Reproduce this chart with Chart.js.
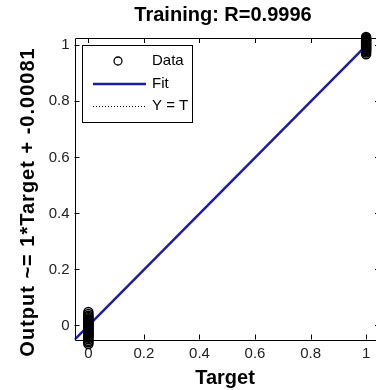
<!DOCTYPE html>
<html>
<head>
<meta charset="utf-8">
<script src="https://cdn.jsdelivr.net/npm/chart.js@4/dist/chart.umd.min.js"></script>
<style>
    html, body { margin: 0; padding: 0; background: #fff; overflow: hidden; }
    #wrap { width: 386px; height: 390px; }
</style>
</head>
<body>
<div id="wrap"><canvas id="graphRegression" width="386" height="390"></canvas></div>
<script>
// Datos del grafico de regresion
const chartTitle = "Training: R=0.9996";
const xAxisTitle = "Target";
const yAxisTitle = "Output ~= 1*Target + -0.00081";
const legendLabels = ["Data", "Fit", "Y = T"];

const xTickValues = [0, 0.2, 0.4, 0.6, 0.8, 1];
const yTickValues = [0, 0.2, 0.4, 0.6, 0.8, 1];
const xTickLabels = ["0", "0.2", "0.4", "0.6", "0.8", "1"];
const yTickLabels = ["0", "0.2", "0.4", "0.6", "0.8", "1"];

// Salidas de la red para target = 0 y target = 1
const outputsTarget0 = [0.048, 0.041, 0.035, 0.03, 0.026, 0.022, 0.019, 0.016, 0.013, 0.01,
    0.007, 0.004, 0.001, -0.002, -0.005, -0.008, -0.011, -0.014, -0.017, -0.02, -0.023, -0.026,
    -0.029, -0.032, -0.035, -0.038, -0.041, -0.044, -0.049, -0.055, -0.06, -0.066];
const outputsTarget1 = [0.968, 0.974, 0.979, 0.983, 0.986, 0.989, 0.992, 0.995, 0.998, 1.001,
    1.004, 1.007, 1.01, 1.013, 1.016, 1.019, 1.022, 1.026, 1.03];

// Recta de ajuste y recta Y = T
const fitX = [-0.05, 1];
const fitY = [-0.0508, 0.9992];
const identityX = [-0.05, 1.05];
const identityY = [-0.05, 1.05];

const fitColor = "#1c1ca6";
const fontFamily = "'Liberation Sans', Arial, sans-serif";

// Plugin para dibujar ejes tipo MATLAB, titulos y leyenda
const matlabAxes = {
    id: "matlabAxes",
    afterDatasetsDraw(chart) {
        const ctx = chart.ctx;
        const area = chart.chartArea;
        const xs = chart.scales.x;
        const ys = chart.scales.y;
        const tick = 5;

        ctx.save();
        ctx.strokeStyle = "#000";
        ctx.lineWidth = 1;
        ctx.beginPath();
        ctx.rect(Math.round(area.left) + 0.5, Math.round(area.top) + 0.5,
            Math.round(area.right - area.left), Math.round(area.bottom - area.top));
        ctx.stroke();

        // Marcas hacia adentro
        ctx.beginPath();
        xTickValues.forEach(v => {
            const px = Math.round(xs.getPixelForValue(v)) + 0.5;
            ctx.moveTo(px, area.bottom);
            ctx.lineTo(px, area.bottom - tick);
            ctx.moveTo(px, area.top);
            ctx.lineTo(px, area.top + tick);
        });
        yTickValues.forEach(v => {
            const py = Math.round(ys.getPixelForValue(v)) + 0.5;
            ctx.moveTo(area.left, py);
            ctx.lineTo(area.left + tick, py);
            ctx.moveTo(area.right, py);
            ctx.lineTo(area.right - tick, py);
        });
        ctx.stroke();

        // Leyenda
        const lg = { left: 82.5, top: 45.5, right: 192.5, bottom: 122.5 };
        ctx.fillStyle = "#fff";
        ctx.fillRect(lg.left, lg.top, lg.right - lg.left, lg.bottom - lg.top);
        ctx.strokeStyle = "#000";
        ctx.strokeRect(lg.left, lg.top, lg.right - lg.left, lg.bottom - lg.top);

        const rows = [61, 84, 106];
        ctx.font = "15px " + fontFamily;
        ctx.fillStyle = "#000";
        ctx.textBaseline = "middle";
        ctx.textAlign = "left";
        legendLabels.forEach((label, i) => ctx.fillText(label, 152, rows[i]));

        ctx.lineWidth = 1.3;
        ctx.beginPath();
        ctx.arc(118, rows[0], 4, 0, Math.PI * 2);
        ctx.stroke();

        ctx.strokeStyle = fitColor;
        ctx.lineWidth = 2.5;
        ctx.beginPath();
        ctx.moveTo(93, rows[1]);
        ctx.lineTo(146, rows[1]);
        ctx.stroke();

        ctx.strokeStyle = "#000";
        ctx.lineWidth = 1;
        ctx.setLineDash([1, 2]);
        ctx.beginPath();
        ctx.moveTo(93, rows[2] + 0.5);
        ctx.lineTo(146, rows[2] + 0.5);
        ctx.stroke();
        ctx.setLineDash([]);
        ctx.restore();
    },
    afterDraw(chart) {
        const ctx = chart.ctx;
        ctx.save();
        ctx.fillStyle = "#000";
        ctx.font = "bold 20px " + fontFamily;
        ctx.textAlign = "center";
        ctx.textBaseline = "alphabetic";
        ctx.fillText(chartTitle, 223, 21);
        ctx.fillText(xAxisTitle, 225, 384);

        ctx.translate(34, 202);
        ctx.rotate(-Math.PI / 2);
        ctx.letterSpacing = "1px";
        ctx.fillText(yAxisTitle, 0, 0);
        ctx.restore();
    }
};

const ctxRegression = document.getElementById("graphRegression").getContext("2d");
const chartRegression = new Chart(ctxRegression, {
    type: "scatter",
    data: {
        datasets: [
            {
                label: legendLabels[0],
                data: outputsTarget0.map(y => ({ x: 0, y: y }))
                    .concat(outputsTarget1.map(y => ({ x: 1, y: y }))),
                pointStyle: "circle",
                pointRadius: 4.5,
                borderWidth: 1.5,
                borderColor: "#000",
                backgroundColor: "rgba(0,0,0,0)",
                clip: false,
                order: 0
            },
            {
                label: legendLabels[1],
                type: "line",
                data: fitX.map((x, i) => ({ x: x, y: fitY[i] })),
                borderColor: fitColor,
                borderWidth: 2.5,
                pointRadius: 0,
                order: 1
            },
            {
                label: legendLabels[2],
                type: "line",
                data: identityX.map((x, i) => ({ x: x, y: identityY[i] })),
                borderColor: "#000",
                borderWidth: 1,
                borderDash: [1, 2],
                pointRadius: 0,
                order: 2
            }
        ]
    },
    options: {
        responsive: false,
        animation: false,
        layout: { padding: { top: 38, right: 3, left: 0, bottom: 0 } },
        plugins: {
            legend: { display: false },
            title: { display: false },
            tooltip: { enabled: false }
        },
        scales: {
            x: {
                type: "linear",
                min: -0.05,
                max: 1.05,
                grid: { display: false, drawTicks: false },
                border: { display: false },
                afterBuildTicks: scale => { scale.ticks = xTickValues.map(v => ({ value: v })); },
                afterFit: scale => { scale.height = 50.5; },
                ticks: {
                    padding: 5,
                    color: "#222",
                    font: { family: fontFamily, size: 15 },
                    callback: value => xTickLabels[xTickValues.indexOf(value)]
                }
            },
            y: {
                type: "linear",
                min: -0.05,
                max: 1.026,
                grid: { display: false, drawTicks: false },
                border: { display: false },
                afterBuildTicks: scale => { scale.ticks = yTickValues.map(v => ({ value: v })); },
                afterFit: scale => { scale.width = 74.5; },
                ticks: {
                    padding: 5,
                    color: "#222",
                    font: { family: fontFamily, size: 15 },
                    callback: value => yTickLabels[yTickValues.indexOf(value)]
                }
            }
        }
    },
    plugins: [matlabAxes]
});
</script>
</body>
</html>
